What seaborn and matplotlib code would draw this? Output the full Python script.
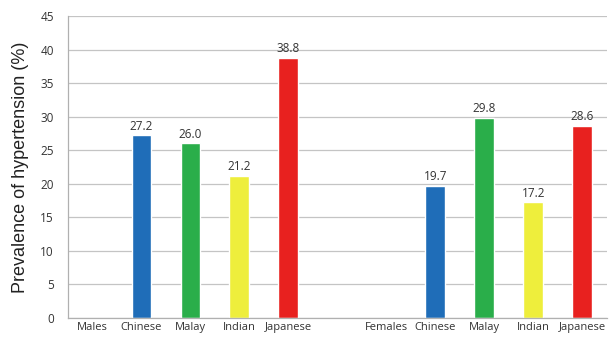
import matplotlib
matplotlib.use("Agg")
import matplotlib.pyplot as plt
import seaborn as sns
import pandas as pd
import numpy as np

# Category slots along the x axis (group header, four ethnic groups, spacer, ...)
slot_keys = ["Males", "M_Chinese", "M_Malay", "M_Indian", "M_Japanese", "gap",
             "Females", "F_Chinese", "F_Malay", "F_Indian", "F_Japanese"]
tick_labels = ["Males", "Chinese", "Malay", "Indian", "Japanese", "",
               "Females", "Chinese", "Malay", "Indian", "Japanese"]

ethnic_groups = ["Chinese", "Malay", "Indian", "Japanese"]
male_values = [27.2, 26.0, 21.2, 38.8]
female_values = [19.7, 29.8, 17.2, 28.6]

group_colors = {"Chinese": "#1f6db8", "Malay": "#2aae4a", "Indian": "#eeee3c", "Japanese": "#e8211f"}

rows = []
for g, v in zip(ethnic_groups, male_values):
    rows.append({"slot": "M_" + g, "value": v, "group": g})
for g, v in zip(ethnic_groups, female_values):
    rows.append({"slot": "F_" + g, "value": v, "group": g})
df = pd.DataFrame(rows)

sns.set_theme(style="white")
plt.rcParams["font.family"] = ["Open Sans", "DejaVu Sans"]

fig = plt.figure(figsize=(6.11, 3.40), dpi=100)
ax = fig.add_axes([0.111, 0.065, 0.882, 0.888])

sns.barplot(data=df, x="slot", y="value", hue="group", order=slot_keys,
            hue_order=ethnic_groups, palette=group_colors, dodge=False,
            width=0.4, legend=False, ax=ax, saturation=1)

# Value labels above bars
for container in ax.containers:
    ax.bar_label(container, fmt="%.1f", padding=2, fontsize=8.5, color="#333333")

ax.set_ylim(0, 45)
ax.set_yticks(np.arange(0, 46, 5))
ax.set_xlim(-0.5, len(slot_keys) - 0.5)
ax.set_xticks(range(len(slot_keys)))
ax.set_xticklabels(tick_labels, fontsize=8, color="#333333")
ax.tick_params(axis="x", length=0, pad=3)
ax.set_xticks(np.arange(-0.5, len(slot_keys), 1), minor=True)
ax.tick_params(axis="x", which="minor", length=4, color="#b0b0b0", width=0.8, direction="out")
ax.tick_params(axis="y", labelsize=8.5, colors="#333333", length=4, width=0.8, pad=6)
ax.tick_params(axis="y", color="#b0b0b0")

ax.yaxis.grid(True, color="#c4c4c4", linewidth=0.9)
ax.set_axisbelow(True)
for side in ["top", "right"]:
    ax.spines[side].set_visible(False)
for side in ["left", "bottom"]:
    ax.spines[side].set_color("#b0b0b0")
    ax.spines[side].set_linewidth(0.9)

ax.set_xlabel("")
ax.set_ylabel("Prevalence of hypertension (%)", fontsize=13, color="#222222",
              family=["Liberation Sans", "DejaVu Sans"], labelpad=8)

fig.savefig("out.png", dpi=100)
